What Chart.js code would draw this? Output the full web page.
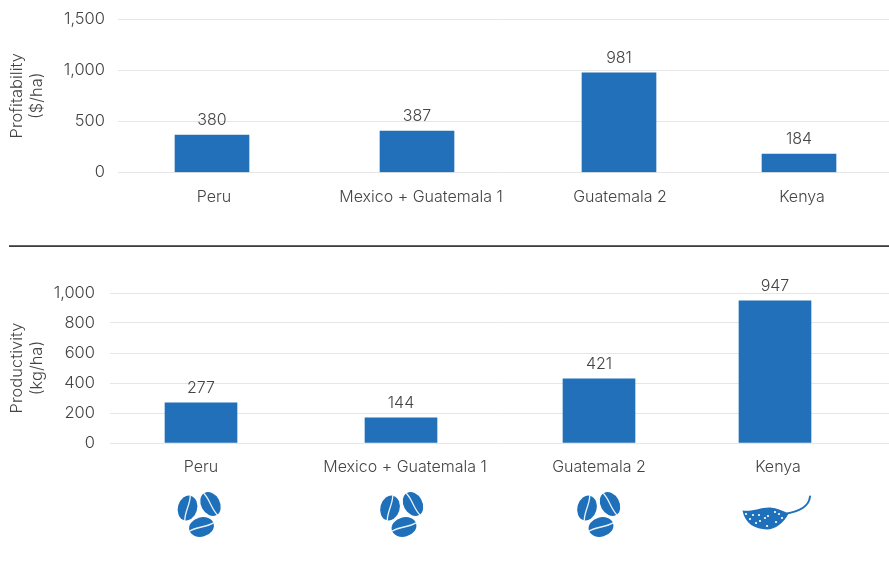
<!DOCTYPE html>
<html><head><meta charset="utf-8">
<style>
html,body{margin:0;padding:0;background:#fff;width:889px;height:569px;overflow:hidden}
canvas{position:absolute;left:0}
#rule{position:absolute;left:9px;right:0;top:245px;height:2px;background:linear-gradient(#777,#2a2a2a)}
</style>
<script src="https://cdn.jsdelivr.net/npm/chart.js@4"></script>
</head><body>
<div style="position:absolute;left:0;top:-14px;width:889px;height:254px"><canvas id="top"></canvas></div>
<div id="rule"></div>
<div style="position:absolute;left:0;top:260px;width:889px;height:300px"><canvas id="bot"></canvas></div>
<script>
const categories = ['Peru','Mexico + Guatemala 1','Guatemala 2','Kenya'];
const profitBars = [366,405,973,181];
const profitLabels = ['380','387','981','184'];
const productBars = [267,167,427,947];
const productLabels = ['277','144','421','947'];
const profitTicks = [0,500,1000,1500];
const productTicks = [0,200,400,600,800,1000];
const profitBarSlots = [94,299,501,681];
const profitTextSlots = [96,303,502,684];
const productBarSlots = [91,291,489,665];
const productTextSlots = [91,295,489,668];
const productIconSlots = [89.5,292,489,665];

const FONT = 'Inter';
const TEXT = '#444';
const BLUE = '#2170b9';
const ICON = '#1f70ba';

const valueLabels = {
  id:'valueLabels',
  afterDatasetsDraw(c){
    const m=c.getDatasetMeta(0), t=c.options.plugins.valueLabels.texts, g=c.ctx;
    g.save(); g.font='300 16px '+FONT; g.fillStyle=TEXT; g.textAlign='center'; g.textBaseline='middle';
    m.data.forEach((b,i)=>g.fillText(t[i],b.x,b.y-15));
    g.restore();
  }
};

function bean(g,x,y,rx,ry,rot){
  g.save(); g.translate(x,y); g.rotate(rot);
  g.fillStyle=ICON; g.beginPath(); g.ellipse(0,0,rx,ry,0,0,Math.PI*2); g.fill();
  g.strokeStyle='rgba(255,255,255,.9)'; g.lineWidth=1.3; g.beginPath();
  g.moveTo(-0.8,-ry); g.bezierCurveTo(1.6,-ry*.4,-1.6,ry*.4,0.8,ry); g.stroke();
  g.restore();
}
function beans(g,x,y){
  bean(g,x-12,y-6,9.6,12.6,0.28);
  bean(g,x+11,y-10,9.4,12.6,-0.5);
  bean(g,x+2,y+13,9.6,12.6,1.3);
}
const leafDots=[[-29,0],[-22,1],[-16,1],[-7,2],[0,-2],[4,0],[7,4],[-10,4],[1,8],[-15,7],[-25,5],[-19,9],[-8,12]];
function leaf(g,x,y){
  g.save(); g.translate(x,y); g.fillStyle=ICON; g.strokeStyle=ICON;
  g.beginPath(); g.moveTo(-32.5,-3.5);
  g.bezierCurveTo(-22,-2,-14,-7,-5,-6.5);
  g.bezierCurveTo(2,-6,8,-3,13.5,-0.5);
  g.bezierCurveTo(9,9,0,15.5,-8,15.5);
  g.bezierCurveTo(-20,15,-30,10,-32.5,-3.5);
  g.fill();
  g.lineWidth=2; g.lineCap='round'; g.beginPath(); g.moveTo(12,-0.5);
  g.bezierCurveTo(24,-3,34,-7,35,-17.5); g.stroke();
  g.fillStyle='#fff';
  leafDots.forEach(d=>{g.beginPath(); g.arc(d[0],d[1],1.1,0,Math.PI*2); g.fill();});
  g.restore();
}
const origins = {
  id:'origins',
  afterDraw(c){
    const slots=c.options.plugins.origins.slots;
    if(!slots) return;
    const g=c.ctx, y=254, sx=c.scales.x;
    slots.forEach((s,i)=>{ const x=sx.getPixelForValue(s); if(i<3) beans(g,x,y); else leaf(g,x,y); });
  }
};

function make(id,o){
  const {bars,texts,barSlots,textSlots,ticks,yMax,xMax,area,thick,title,icons,h}=o;
  return new Chart(document.getElementById(id),{
    type:'bar',
    data:{datasets:[{data:bars.map((v,i)=>({x:barSlots[i],y:v})),backgroundColor:BLUE,barThickness:thick}]},
    plugins:[valueLabels,origins],
    options:{
      responsive:false,animation:false,devicePixelRatio:1,
      layout:{padding:{top:area.top,right:0,left:0,bottom:0}},
      plugins:{legend:{display:false},tooltip:{enabled:false},valueLabels:{texts},origins:{slots:icons}},
      scales:{
        x:{type:'linear',min:0,max:xMax,offset:false,
          grid:{display:false},border:{display:false},
          afterBuildTicks(s){s.ticks=textSlots.map(v=>({value:v}));},
          afterFit(s){s.height=h-area.bottom;},
          ticks:{autoSkip:false,maxRotation:0,color:TEXT,padding:area.xPad,font:{family:FONT,size:16,weight:'300'},
            callback(v){return categories[textSlots.indexOf(v)];}}
        },
        y:{min:0,max:yMax,
          afterBuildTicks(s){s.ticks=ticks.map(v=>({value:v}));},
          afterFit(s){s.width=area.left;},
          grid:{color:'#e6e6e6',lineWidth:1,drawTicks:false},border:{display:false},
          ticks:{color:TEXT,padding:area.yPad,font:{family:FONT,size:16.5,weight:'300'},
            callback(v){return v.toLocaleString('en-US');}},
          title:{display:true,text:title,color:TEXT,font:{family:FONT,size:16.5,weight:'300',lineHeight:1.22},padding:{top:7,bottom:0}}
        }
      }
    }
  });
}
function size(id,w,h){const c=document.getElementById(id);c.width=w;c.height=h;c.style.width=w+'px';c.style.height=h+'px';}
size('top',889,254); size('bot',889,300);
make('top',{bars:profitBars,texts:profitLabels,barSlots:profitBarSlots,textSlots:profitTextSlots,ticks:profitTicks,
  yMax:1500,xMax:771,area:{top:33,bottom:186.5,left:118,xPad:7,yPad:13},thick:74,
  title:['Profitability','($/ha)'],icons:null,h:254});
make('bot',{bars:productBars,texts:productLabels,barSlots:productBarSlots,textSlots:productTextSlots,ticks:productTicks,
  yMax:1000,xMax:779,area:{top:33,bottom:183,left:110,xPad:7,yPad:15},thick:72,
  title:['Productivity','(kg/ha)'],icons:productIconSlots,h:300});
</script>
</body></html>
